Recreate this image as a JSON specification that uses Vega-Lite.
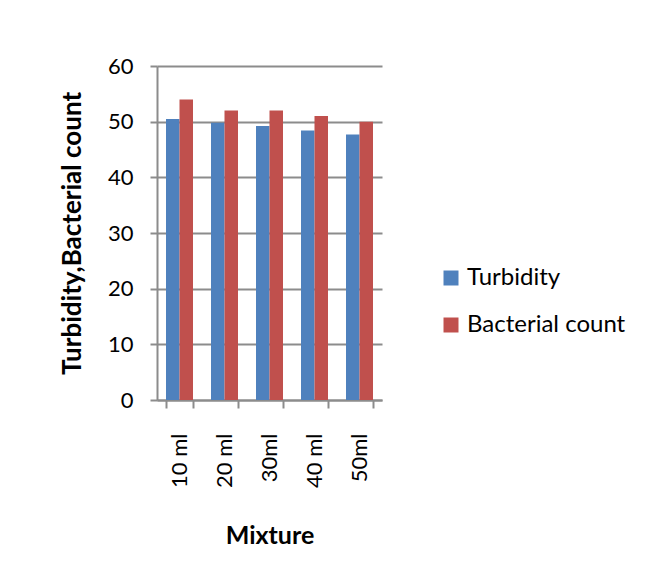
{
  "$schema": "https://vega.github.io/schema/vega-lite/v6.json",
  "autosize": "none",
  "width": 225,
  "height": 334,
  "padding": {"left": 157, "top": 66, "right": 284, "bottom": 182},
  "background": "white",
  "data": {"values": [
    {"mixture": "10 ml", "series": "Turbidity", "value": 50.5},
    {"mixture": "10 ml", "series": "Bacterial count", "value": 54},
    {"mixture": "20 ml", "series": "Turbidity", "value": 49.8},
    {"mixture": "20 ml", "series": "Bacterial count", "value": 52},
    {"mixture": "30ml", "series": "Turbidity", "value": 49.2},
    {"mixture": "30ml", "series": "Bacterial count", "value": 52},
    {"mixture": "40 ml", "series": "Turbidity", "value": 48.4},
    {"mixture": "40 ml", "series": "Bacterial count", "value": 51},
    {"mixture": "50ml", "series": "Turbidity", "value": 47.7},
    {"mixture": "50ml", "series": "Bacterial count", "value": 50}
  ]},
  "mark": {"type": "bar"},
  "encoding": {
    "x": {
      "field": "mixture", "type": "nominal", "sort": null,
      "scale": {"paddingInner": 0.4, "paddingOuter": 0.2},
      "axis": {
        "title": "Mixture", "titleFont": "Lato", "titleFontSize": 25, "titleFontWeight": "bold",
        "titleColor": "black", "titlePadding": 36,
        "labelAngle": -90, "labelFont": "Lato", "labelFontSize": 22, "labelColor": "black",
        "labelPadding": 25,
        "tickBand": "extent", "tickColor": "#8c8c8c", "tickSize": 8, "tickWidth": 2,
        "domainColor": "#8c8c8c", "domainWidth": 2
      }
    },
    "xOffset": {"field": "series", "type": "nominal", "sort": ["Turbidity", "Bacterial count"]},
    "y": {
      "field": "value", "type": "quantitative",
      "scale": {"domain": [0, 60]},
      "axis": {
        "values": [0, 10, 20, 30, 40, 50, 60],
        "title": "Turbidity,Bacterial count", "titleFont": "Lato", "titleFontSize": 26,
        "titleFontWeight": "bold", "titleColor": "black", "titlePadding": 22,
        "labelFont": "Lato", "labelFontSize": 22, "labelColor": "black", "labelPadding": 17,
        "tickColor": "#8c8c8c", "tickSize": 7, "tickWidth": 2,
        "domainColor": "#8c8c8c", "domainWidth": 2,
        "gridColor": "#8c8c8c", "gridWidth": 2
      }
    },
    "color": {
      "field": "series", "type": "nominal",
      "sort": ["Turbidity", "Bacterial count"],
      "scale": {"domain": ["Turbidity", "Bacterial count"], "range": ["#4F81BD", "#C0504D"]},
      "legend": {
        "title": null, "orient": "none", "legendX": 282, "legendY": 200,
        "symbolType": "square", "symbolSize": 225, "symbolStrokeWidth": 0,
        "labelFont": "Lato", "labelFontSize": 24, "labelColor": "black",
        "rowPadding": 23, "labelOffset": 4
      }
    }
  },
  "config": {"view": {"stroke": null}}
}
